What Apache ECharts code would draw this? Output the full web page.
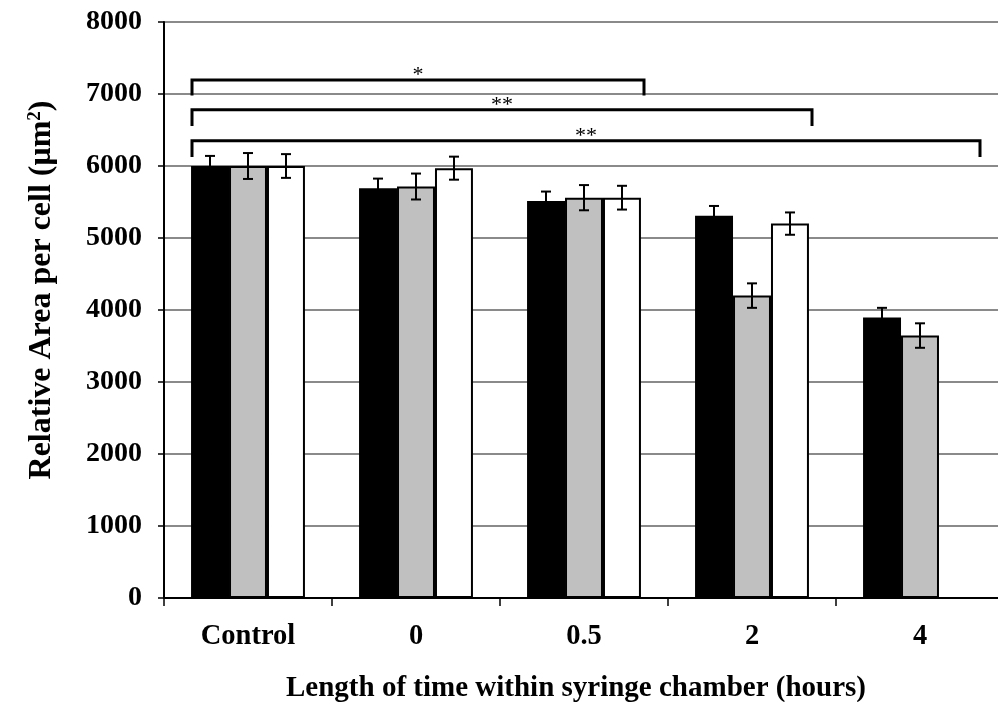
<!DOCTYPE html>
<html>
<head>
<meta charset="utf-8">
<script src="https://cdn.jsdelivr.net/npm/echarts@6/dist/echarts.min.js"></script>
<style>
  html, body { margin: 0; padding: 0; background: #fff; }
  #chart { width: 998px; height: 702px; }
</style>
</head>
<body>
<div id="chart"></div>
<script>
// Categories: time spent in the syringe chamber
const categories = ['Control', '0', '0.5', '2', '4'];

// Mean relative area per cell (µm²) for the three groups
const blackValues = [6000, 5690, 5515, 5310, 3895];
const greyValues  = [6000, 5715, 5560, 4200, 3645];
const whiteValues = [6000, 5970, 5560, 5200, null];

// Error bar half-lengths
const blackErrors = [140, 135, 130, 135, 135];
const greyErrors  = [180, 180, 175, 170, 170];
const whiteErrors = [165, 160, 165, 155, null];

// Significance brackets: from category, to category, bar level, leg end, label
const sigFrom   = [0, 0, 0];
const sigTo     = [2, 3, 4];
const sigLevel  = [7195, 6780, 6350];
const sigLegEnd = [6980, 6555, 6125];
const sigLabels = ['*', '**', '**'];

const yTicks = { min: 0, max: 8000, interval: 1000 };

const FONT = '"Liberation Serif", "Times New Roman", serif';
const BAR_FRAC = 38 / 168;

const chart = echarts.init(document.getElementById('chart'), null, { renderer: 'canvas' });

function errorSeries(values, errors, slot) {
  const data = values.map((v, i) => [i, v, errors[i]]).filter(d => d[1] != null);
  return {
    type: 'custom',
    z: 5,
    clip: false,
    encode: { x: 0, y: 1 },
    data: data,
    renderItem: function (params, api) {
      const cat = api.value(0), v = api.value(1), e = api.value(2);
      const bw = api.size([1, 0])[0] * BAR_FRAC;
      const x = api.coord([cat, v])[0] + (slot - 1) * bw;
      const yTop = api.coord([cat, v + e])[1];
      const yBot = api.coord([cat, v - e])[1];
      const cap = 5;
      const st = { stroke: '#000', lineWidth: 2 };
      return {
        type: 'group',
        children: [
          { type: 'line', shape: { x1: x, y1: yTop, x2: x, y2: yBot }, style: st },
          { type: 'line', shape: { x1: x - cap, y1: yTop, x2: x + cap, y2: yTop }, style: st },
          { type: 'line', shape: { x1: x - cap, y1: yBot, x2: x + cap, y2: yBot }, style: st }
        ]
      };
    }
  };
}

function barSeries(name, values, color) {
  return {
    name: name,
    type: 'bar',
    data: values,
    barWidth: '22.6%',
    barGap: '0%',
    itemStyle: { color: color, borderColor: '#000', borderWidth: 2 },
    z: 3
  };
}

const bracketData = sigFrom.map((f, i) => [f, sigTo[i], sigLevel[i], sigLegEnd[i], sigLabels[i]]);

const bracketSeries = {
  type: 'custom',
  z: 6,
  clip: false,
  encode: { x: [0, 1], y: [2, 3] },
  data: bracketData,
  renderItem: function (params, api) {
    const from = api.value(0), to = api.value(1);
    const level = api.value(2), leg = api.value(3);
    const label = bracketData[params.dataIndex][4];
    const bw = api.size([1, 0])[0] * BAR_FRAC;
    const left = api.coord([from, level])[0] - 1.5 * bw + 1;
    const right = api.coord([to, level])[0] + 1.5 * bw + 3;
    const yLine = api.coord([from, level])[1];
    const yLeg = api.coord([from, leg])[1];
    return {
      type: 'group',
      children: [
        {
          type: 'polyline',
          shape: { points: [[left, yLeg], [left, yLine], [right, yLine], [right, yLeg]] },
          style: { stroke: '#000', lineWidth: 3, fill: null, lineJoin: 'miter' }
        },
        {
          type: 'text',
          x: (left + right) / 2,
          y: yLine + 6,
          style: {
            text: label,
            font: '22px ' + FONT,
            fill: '#000',
            align: 'center',
            verticalAlign: 'bottom'
          }
        }
      ]
    };
  }
};

const option = {
  animation: false,
  backgroundColor: '#fff',
  grid: { left: 164, top: 22, width: 840, height: 576, outerBoundsMode: 'none', containLabel: false },
  xAxis: {
    type: 'category',
    data: categories,
    name: 'Length of time within syringe chamber (hours)',
    nameLocation: 'middle',
    nameGap: 76,
    nameTextStyle: { fontFamily: FONT, fontWeight: 'bold', fontSize: 29, color: '#000', padding: [0, 16, 0, 0] },
    axisLine: { lineStyle: { color: '#000', width: 2 } },
    axisTick: { show: true, length: 8, lineStyle: { color: '#000', width: 1.5 } },
    axisLabel: { fontFamily: FONT, fontWeight: 'bold', fontSize: 28.5, color: '#000', margin: 24 },
    splitLine: { show: false }
  },
  yAxis: {
    type: 'value',
    min: yTicks.min,
    max: yTicks.max,
    interval: yTicks.interval,
    name: '{a|Relative Area per cell (μm}{s|2}{a|)}',
    nameLocation: 'middle',
    nameGap: 106,
    nameRotate: 90,
    nameTextStyle: {
      padding: [0, 0, 0, 40],
      rich: {
        a: { fontFamily: FONT, fontWeight: 'bold', fontSize: 32, color: '#000' },
        s: { fontFamily: FONT, fontWeight: 'bold', fontSize: 19, color: '#000', verticalAlign: 'top', padding: [0, 0, 12, 0] }
      }
    },
    axisLine: { show: true, lineStyle: { color: '#000', width: 2 } },
    axisTick: { show: true, length: 6, lineStyle: { color: '#000', width: 1.5 } },
    axisLabel: {
      fontFamily: FONT, fontWeight: 'bold', fontSize: 28, color: '#000', margin: 22,
      formatter: function (v) { return String(v); }
    },
    splitLine: { show: true, lineStyle: { color: '#8a8a8a', width: 2 } }
  },
  series: [
    barSeries('black', blackValues, '#000000'),
    barSeries('grey', greyValues, '#c0c0c0'),
    barSeries('white', whiteValues, '#ffffff'),
    errorSeries(blackValues, blackErrors, 0),
    errorSeries(greyValues, greyErrors, 1),
    errorSeries(whiteValues, whiteErrors, 2),
    bracketSeries
  ]
};

chart.setOption(option);
</script>
</body>
</html>
